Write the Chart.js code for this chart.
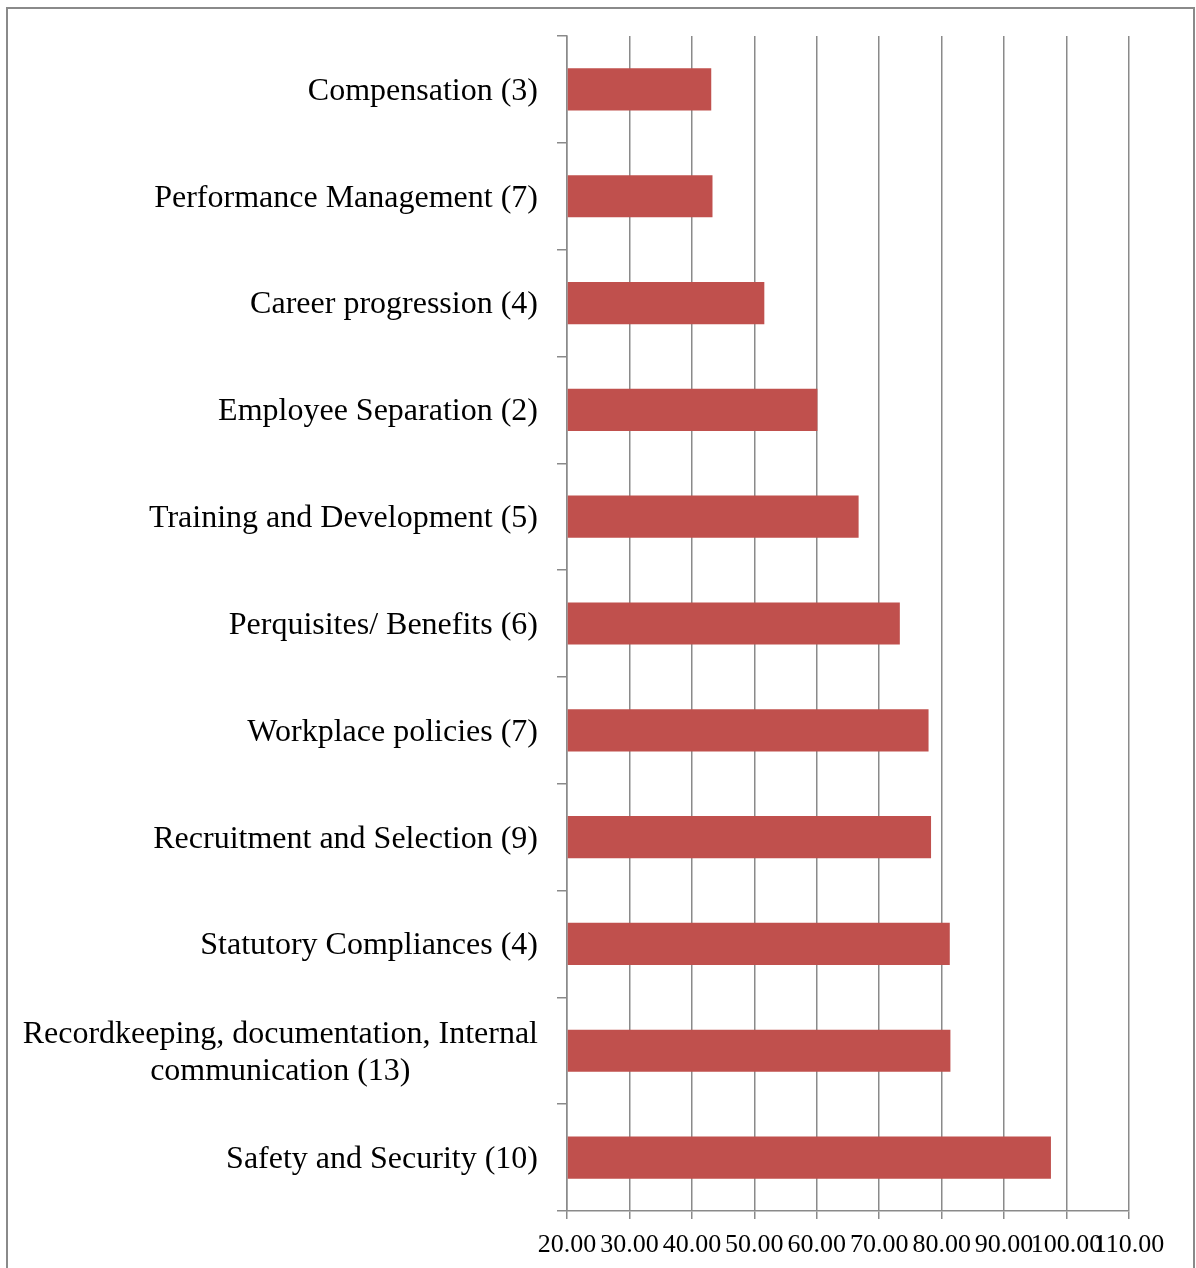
<!DOCTYPE html>
<html lang="en">

<head>
    <meta charset="UTF-8">
    <title>HR Practices Scores</title>
    <script src="https://cdn.jsdelivr.net/npm/chart.js"></script>
    <style>
        body { margin: 0; background: #fff; }
        #wrap { position: relative; width: 1196px; height: 1268px; }
    </style>
</head>

<body>
    <div id="wrap">
        <canvas id="scoreChart"></canvas>
    </div>

    <script>
        // categories, top to bottom (number of items in brackets)
        const categories = [
            'Compensation (3)',
            'Performance Management (7)',
            'Career progression (4)',
            'Employee Separation (2)',
            'Training and Development (5)',
            'Perquisites/ Benefits (6)',
            'Workplace policies (7)',
            'Recruitment and Selection (9)',
            'Statutory Compliances (4)',
            ['Recordkeeping, documentation, Internal', 'communication (13)'],
            'Safety and Security (10)'
        ];
        const scores = [43.1, 43.3, 51.6, 60.1, 66.7, 73.3, 77.9, 78.3, 81.3, 81.4, 97.5];
        const xMin = 20;
        const xMax = 110;
        const xStep = 10;

        const serif = "'Liberation Serif', 'Times New Roman', serif";
        const gridGrey = '#8a8a8a';

        // outer frame and the category labels (second line of a wrapped label is centred under the first)
        const framePlugin = {
            id: 'frameAndLabels',
            beforeDraw(chart) {
                const ctx = chart.ctx;
                ctx.save();
                ctx.strokeStyle = gridGrey;
                ctx.lineWidth = 2;
                ctx.strokeRect(7, 8, 1187, 1300);
                ctx.restore();
            },
            afterDraw(chart) {
                const ctx = chart.ctx;
                const y = chart.scales.y;
                const right = 538;
                const lineH = 37;
                ctx.save();
                ctx.font = '32px ' + serif;
                ctx.fillStyle = '#000';
                ctx.textBaseline = 'middle';
                ctx.textAlign = 'center';
                categories.forEach((lab, i) => {
                    const lines = Array.isArray(lab) ? lab : [lab];
                    const w = Math.max(...lines.map(l => ctx.measureText(l).width));
                    const cx = right - w / 2;
                    const cy = y.getPixelForValue(i) + 2;
                    lines.forEach((l, k) => {
                        ctx.fillText(l, cx, cy + (k - (lines.length - 1) / 2) * lineH);
                    });
                });
                ctx.restore();
            }
        };

        const ctx = document.getElementById('scoreChart').getContext('2d');
        const scoreChart = new Chart(ctx, {
            type: 'bar',
            data: {
                labels: categories,
                datasets: [{
                    data: scores,
                    base: xMin,
                    backgroundColor: '#C0504D',
                    borderWidth: 0,
                    categoryPercentage: 1,
                    barPercentage: 0.395
                }]
            },
            options: {
                indexAxis: 'y',
                responsive: true,
                maintainAspectRatio: false,
                animation: false,
                layout: { padding: { top: 36, right: 67, left: 0, bottom: 0 } },
                plugins: {
                    legend: { display: false },
                    tooltip: { enabled: false }
                },
                scales: {
                    x: {
                        min: xMin,
                        max: xMax,
                        afterFit(scale) { scale.height = 57; },
                        grid: { color: gridGrey, lineWidth: 1.5, tickLength: 8 },
                        border: { color: gridGrey, width: 1.5 },
                        ticks: {
                            stepSize: xStep,
                            autoSkip: false,
                            maxRotation: 0,
                            padding: 11,
                            color: '#000',
                            font: { family: serif, size: 26 },
                            callback: v => v.toFixed(2)
                        }
                    },
                    y: {
                        afterFit(scale) { scale.width = 567; },
                        grid: {
                            offset: true,
                            drawOnChartArea: false,
                            tickLength: 10,
                            color: gridGrey,
                            lineWidth: 1.5
                        },
                        border: { color: gridGrey, width: 1.5 },
                        ticks: { display: false }
                    }
                }
            },
            plugins: [framePlugin]
        });
    </script>
</body>

</html>
